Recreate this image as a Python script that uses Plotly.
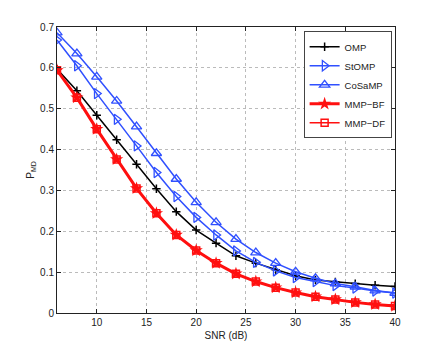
import plotly.graph_objects as go

# SNR points (dB)
snr = [6, 8, 10, 12, 14, 16, 18, 20, 22, 24, 26, 28, 30, 32, 34, 36, 38, 40]

# Miss-detection probability per algorithm
omp = [0.597, 0.544, 0.484, 0.424, 0.364, 0.304, 0.248, 0.203, 0.171, 0.140,
       0.122, 0.106, 0.091, 0.081, 0.076, 0.072, 0.068, 0.065]
stomp = [0.668, 0.605, 0.537, 0.474, 0.409, 0.344, 0.285, 0.234, 0.191, 0.152,
         0.124, 0.103, 0.087, 0.077, 0.067, 0.061, 0.054, 0.049]
cosamp = [0.686, 0.635, 0.578, 0.519, 0.456, 0.391, 0.328, 0.271, 0.222, 0.181,
          0.148, 0.122, 0.101, 0.085, 0.072, 0.064, 0.055, 0.049]
mmp_bf = [0.594, 0.527, 0.450, 0.376, 0.305, 0.244, 0.191, 0.153, 0.122, 0.096,
          0.077, 0.062, 0.050, 0.040, 0.033, 0.026, 0.021, 0.017]
mmp_df = [0.594, 0.527, 0.450, 0.376, 0.305, 0.244, 0.191, 0.153, 0.122, 0.096,
          0.077, 0.062, 0.050, 0.040, 0.033, 0.026, 0.021, 0.017]

blue = "#3050ff"
red = "#ff1010"

fig = go.Figure()
fig.add_trace(go.Scatter(x=snr, y=omp, name="OMP", mode="lines+markers",
                         line=dict(color="black", width=1.5),
                         marker=dict(symbol="cross-thin-open", size=6,
                                     line=dict(color="black", width=1.5))))
fig.add_trace(go.Scatter(x=snr, y=stomp, name="StOMP", mode="lines+markers",
                         line=dict(color=blue, width=1.5),
                         marker=dict(symbol="triangle-right-open", size=9,
                                     line=dict(color=blue, width=1.3))))
fig.add_trace(go.Scatter(x=snr, y=cosamp, name="CoSaMP", mode="lines+markers",
                         line=dict(color=blue, width=1.5),
                         marker=dict(symbol="triangle-up-open", size=9,
                                     line=dict(color=blue, width=1.3))))
fig.add_trace(go.Scatter(x=snr, y=mmp_bf, name="MMP\u2212BF", mode="lines+markers",
                         line=dict(color=red, width=3),
                         marker=dict(symbol="star", size=10, color=red,
                                     line=dict(color=red, width=0))))
fig.add_trace(go.Scatter(x=snr, y=mmp_df, name="MMP\u2212DF", mode="lines+markers",
                         line=dict(color=red, width=1.5),
                         marker=dict(symbol="square-open", size=7,
                                     line=dict(color=red, width=1.5))))

axis_style = dict(showline=True, linecolor="#222", linewidth=1, mirror="ticks",
                  ticks="inside", ticklen=4, tickcolor="#222",
                  showgrid=True, gridcolor="#bbbbbb", griddash="dot", gridwidth=1,
                  zeroline=False, tickfont=dict(size=10, color="#222"))

# page body has an 8px margin, so the figure is drawn 8px in from the corner
fig.update_layout(
    width=428, height=345,
    margin=dict(l=49, r=41, t=19, b=40),
    paper_bgcolor="white", plot_bgcolor="white",
    font=dict(family="Liberation Sans, Arial, sans-serif", size=10, color="#222"),
    xaxis=dict(range=[6, 40], tickvals=[10, 15, 20, 25, 30, 35, 40],
               title=dict(text="SNR (dB)", standoff=4, font=dict(size=10)),
               **axis_style),
    yaxis=dict(range=[0, 0.7],
               tickvals=[0, 0.1, 0.2, 0.3, 0.4, 0.5, 0.6, 0.7],
               ticktext=["0", "0.1", "0.2", "0.3", "0.4", "0.5", "0.6", "0.7"],
               title=dict(text="P<sub>MD</sub>", standoff=3, font=dict(size=10)),
               **axis_style),
    legend=dict(x=0.99, y=0.985, xanchor="right", yanchor="top",
                bgcolor="white", bordercolor="#444", borderwidth=1,
                font=dict(size=9.5), tracegroupgap=0, itemwidth=30),
    showlegend=True,
)

fig.write_html("out.html")
